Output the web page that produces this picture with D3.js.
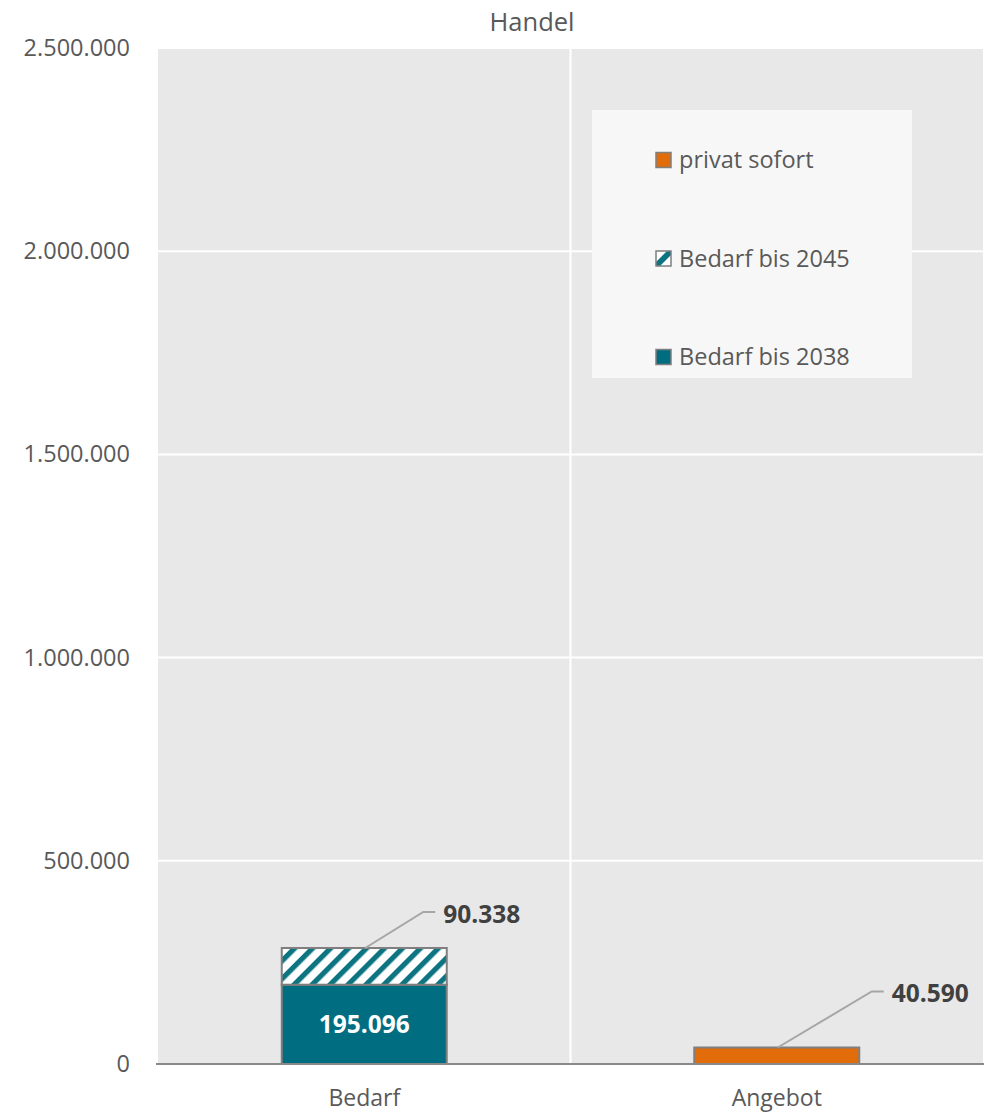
<!DOCTYPE html>
<html>
<head>
<meta charset="utf-8">
<script src="https://cdn.jsdelivr.net/npm/d3@7/dist/d3.min.js"></script>
<style>
  html, body { margin: 0; padding: 0; background: #fff; }
  svg { display: block; font-family: "Open Sans", "Noto Sans", sans-serif; }
</style>
</head>
<body>
<svg id="chart" width="988" height="1115"></svg>
<script>
// Chart data
const title = "Handel";
const categories = ["Bedarf", "Angebot"];
const bedarf2038 = [195096, 0];
const bedarf2045 = [90338, 0];
const privatSofort = [0, 40590];
const yTicks = [0, 500000, 1000000, 1500000, 2000000, 2500000];
const seriesNames = ["Bedarf bis 2038", "Bedarf bis 2045", "privat sofort"];

const de = d3.formatLocale({ decimal: ",", thousands: ".", grouping: [3], currency: ["", " €"] });
const fmt = de.format(",d");

const svg = d3.select("#chart");
const plot = { left: 158, right: 983, top: 48, bottom: 1064 };

const x = d3.scaleBand().domain(categories).range([plot.left, plot.right]).paddingInner(0).paddingOuter(0);
const y = d3.scaleLinear().domain([0, 2500000]).range([plot.bottom, plot.top]);
const barW = x.bandwidth() * 0.4;

// hatch pattern for the 2045 segment
const defs = svg.append("defs");
const pat = defs.append("pattern")
  .attr("id", "hatch").attr("patternUnits", "userSpaceOnUse")
  .attr("width", 12.7).attr("height", 12.7)
  .attr("patternTransform", "rotate(45)");
pat.append("rect").attr("width", 12.7).attr("height", 12.7).attr("fill", "#ffffff");
pat.append("rect").attr("x", 0).attr("width", 5.2).attr("height", 12.7).attr("fill", "#0b7482");
defs.append("filter").attr("id", "soft")
  .append("feGaussianBlur").attr("stdDeviation", 0.6);

const legPat = defs.append("pattern")
  .attr("id", "hatchLeg").attr("patternUnits", "objectBoundingBox")
  .attr("width", 1).attr("height", 1);
legPat.append("rect").attr("width", 15).attr("height", 15).attr("fill", "#fff");
legPat.append("path").attr("d", "M0,15 L0,11 L11,0 L15,0 L15,4 L4,15 Z").attr("fill", "#0b7482");

// plot background
svg.append("rect")
  .attr("x", plot.left).attr("y", plot.top)
  .attr("width", plot.right - plot.left).attr("height", plot.bottom - plot.top)
  .attr("fill", "#e8e8e8");

// horizontal gridlines
svg.append("g").selectAll("line").data(yTicks.filter(d => d > 0)).join("line")
  .attr("x1", plot.left).attr("x2", plot.right)
  .attr("y1", d => y(d)).attr("y2", d => y(d))
  .attr("stroke", "#ffffff").attr("stroke-width", 2);

// vertical divider between categories
svg.append("line")
  .attr("x1", x(categories[1])).attr("x2", x(categories[1]))
  .attr("y1", plot.top).attr("y2", plot.bottom)
  .attr("stroke", "#ffffff").attr("stroke-width", 2);

// y axis
const yAxis = d3.axisLeft(y).tickValues(yTicks).tickFormat(fmt).tickSize(0).tickPadding(0);
const gy = svg.append("g").attr("transform", `translate(130,0)`).call(yAxis);
gy.select(".domain").remove();
gy.selectAll("text")
  .attr("fill", "#595959").attr("font-size", 23.5)
  .attr("font-family", "'Open Sans', 'Noto Sans', sans-serif");

// x axis labels
const xAxis = d3.axisBottom(x).tickSize(0).tickPadding(0);
const gx = svg.append("g").attr("transform", `translate(0,1090)`).call(xAxis);
gx.select(".domain").remove();
gx.selectAll("text")
  .attr("fill", "#595959").attr("font-size", 23)
  .attr("font-family", "'Open Sans', 'Noto Sans', sans-serif");

// stacked bars
const rows = categories.map((c, i) => ({
  cat: c, b2038: bedarf2038[i], b2045: bedarf2045[i], privat: privatSofort[i]
}));
const stack = d3.stack().keys(["b2038", "b2045", "privat"]);
const layers = stack(rows);
const fills = { b2038: "#006e80", b2045: "url(#hatch)", privat: "#e36c0a" };

const barsG = svg.append("g");
layers.forEach(layer => {
  barsG.append("g").selectAll("rect")
    .data(layer.filter(d => d[1] - d[0] > 0))
    .join("rect")
    .attr("x", d => x(d.data.cat) + (x.bandwidth() - barW) / 2)
    .attr("y", d => y(d[1]))
    .attr("width", barW)
    .attr("height", d => y(d[0]) - y(d[1]))
    .attr("fill", fills[layer.key])
    .attr("filter", layer.key === "b2045" ? "url(#soft)" : null);
  barsG.append("g").selectAll("rect")
    .data(layer.filter(d => d[1] - d[0] > 0))
    .join("rect")
    .attr("x", d => x(d.data.cat) + (x.bandwidth() - barW) / 2)
    .attr("y", d => y(d[1]))
    .attr("width", barW)
    .attr("height", d => y(d[0]) - y(d[1]))
    .attr("fill", "none")
    .attr("stroke", "#7f7f7f").attr("stroke-width", 2);
});

// baseline
svg.append("line")
  .attr("x1", 156).attr("x2", 984)
  .attr("y1", y(0)).attr("y2", y(0))
  .attr("stroke", "#898989").attr("stroke-width", 2);

// inside label for the 2038 segment
const l2038 = layers[0].filter(d => d[1] - d[0] > 0);
svg.append("g").selectAll("text").data(l2038).join("text")
  .attr("x", d => x(d.data.cat) + x.bandwidth() / 2)
  .attr("y", d => (y(d[0]) + y(d[1])) / 2)
  .attr("dy", "0.35em")
  .attr("text-anchor", "middle")
  .attr("fill", "#ffffff").attr("font-size", 24.5).attr("font-weight", "bold")
  .text(d => fmt(d[1] - d[0]));

// callout labels with leader lines
const callouts = [
  ...layers[1].filter(d => d[1] - d[0] > 0).map(d => ({ d, dx: 58, dy: -36 })),
  ...layers[2].filter(d => d[1] - d[0] > 0).map(d => ({ d, dx: 94, dy: -56 }))
];
const cg = svg.append("g");
callouts.forEach(({ d, dx, dy }) => {
  const cx = x(d.data.cat) + x.bandwidth() / 2 + 1;
  const cy = y(d[1]);
  cg.append("polyline")
    .attr("points", `${cx},${cy} ${cx + dx},${cy + dy} ${cx + dx + 12},${cy + dy}`)
    .attr("fill", "none").attr("stroke", "#a6a6a6").attr("stroke-width", 2);
  cg.append("text")
    .attr("x", cx + dx + 20).attr("y", cy + dy + 2)
    .attr("dy", "0.35em")
    .attr("fill", "#404040").attr("font-size", 24.5).attr("font-weight", "bold")
    .text(fmt(d[1] - d[0]));
});

// title
svg.append("text")
  .attr("x", 532).attr("y", 22).attr("dy", "0.35em")
  .attr("text-anchor", "middle")
  .attr("fill", "#595959").attr("font-size", 25.5)
  .text(title);

// legend
const legend = svg.append("g");
legend.append("rect")
  .attr("x", 592).attr("y", 110).attr("width", 320).attr("height", 268)
  .attr("fill", "#f7f7f7");
const legItems = [
  { name: seriesNames[2], fill: "#e36c0a" },
  { name: seriesNames[1], fill: "url(#hatchLeg)" },
  { name: seriesNames[0], fill: "#006e80" }
];
const legY = d3.scalePoint().domain(legItems.map(d => d.name)).range([160, 357]);
const li = legend.selectAll("g.item").data(legItems).join("g")
  .attr("class", "item")
  .attr("transform", d => `translate(656,${legY(d.name)})`);
li.append("rect")
  .attr("x", 0).attr("y", -7.5).attr("width", 15).attr("height", 15)
  .attr("fill", d => d.fill).attr("stroke", "#7f7f7f").attr("stroke-width", 1.5);
li.append("text")
  .attr("x", 23).attr("y", 0).attr("dy", "0.35em")
  .attr("fill", "#595959").attr("font-size", 23.5)
  .text(d => d.name);
</script>
</body>
</html>
